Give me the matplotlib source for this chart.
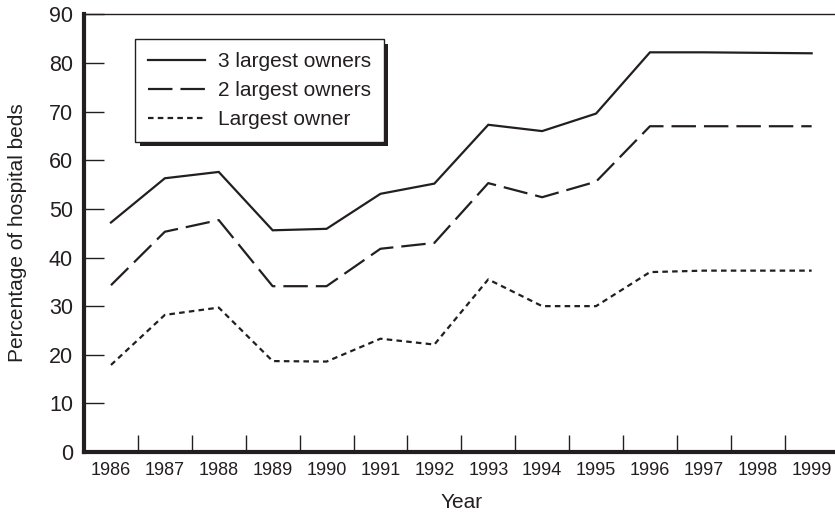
import matplotlib
matplotlib.use("Agg")
import matplotlib.pyplot as plt
from matplotlib.patches import Rectangle
from matplotlib.transforms import IdentityTransform
from matplotlib.ticker import FixedLocator

years = [1986, 1987, 1988, 1989, 1990, 1991, 1992, 1993, 1994, 1995, 1996, 1997, 1998, 1999]
three_largest = [47.2, 56.3, 57.6, 45.6, 45.9, 53.1, 55.2, 67.3, 66.0, 69.6, 82.2, 82.2, 82.1, 82.0]
two_largest = [34.3, 45.3, 47.7, 34.1, 34.1, 41.8, 43.0, 55.3, 52.4, 55.6, 67.0, 67.0, 67.0, 67.0]
largest = [17.9, 28.2, 29.7, 18.7, 18.6, 23.3, 22.1, 35.5, 30.0, 30.0, 37.0, 37.3, 37.3, 37.3]
series_labels = ["3 largest owners", "2 largest owners", "Largest owner"]
y_ticks = [0, 10, 20, 30, 40, 50, 60, 70, 80, 90]

C = "#231f20"
plt.rcParams['font.family'] = ['Liberation Sans', 'DejaVu Sans']
FS_X = 13.0
FS_Y = 15.5
FS_L = 15.0

W, H = 835, 516
fig = plt.figure(figsize=(W / 100, H / 100), dpi=100)
ax = fig.add_axes([84 / W, 64 / H, 754.6 / W, 437.6 / H])

lw = 1.6
ax.plot(years, three_largest, color=C, lw=lw, solid_joinstyle='miter', label=series_labels[0])
ax.plot(years, two_largest, color=C, lw=lw, dashes=(11, 3.6), label=series_labels[1])
ax.plot(years, largest, color=C, lw=lw, dashes=(2.5, 1.9), label=series_labels[2])

ax.set_xlim(1985.5, 1999.5)
ax.set_ylim(0, 90)

ax.set_yticks(y_ticks)
ax.set_yticklabels([str(v) for v in y_ticks])
ax.tick_params(axis='y', direction='in', length=14.5, width=1.0, color=C, pad=8,
               labelsize=FS_Y, labelcolor=C)

ax.set_xticks(years)
ax.set_xticklabels([str(y) for y in years])
ax.xaxis.set_minor_locator(FixedLocator([y + 0.5 for y in years[:-1]]))
ax.tick_params(axis='x', which='major', length=0, pad=7.5, labelsize=FS_X, labelcolor=C)
ax.tick_params(axis='x', which='minor', direction='in', length=12.5, width=1.0, color=C)

for s in ['left', 'bottom']:
    ax.spines[s].set_linewidth(3.0)
    ax.spines[s].set_color(C)
ax.spines['top'].set_linewidth(1.0)
ax.spines['top'].set_color(C)
ax.spines['right'].set_visible(False)

fig.text(462 / W, 1 - 503 / H, "Year", ha='center', va='center', fontsize=FS_L, color=C)
fig.text(18 / W, 1 - 233 / H, "Percentage of hospital beds", ha='center', va='center',
         rotation=90, fontsize=FS_L, color=C)

leg = ax.legend(loc='upper left', bbox_to_anchor=(135 / W, 1 - 39 / H),
                bbox_transform=fig.transFigure, borderaxespad=0, fancybox=False,
                frameon=True, edgecolor=C, framealpha=1, fontsize=FS_L,
                handlelength=2.75, handletextpad=0.6, labelspacing=0.48,
                borderpad=0.62)
leg.get_frame().set_linewidth(1.0)
for t in leg.get_texts():
    t.set_color(C)

fig.canvas.draw()
bb = leg.get_frame().get_window_extent()
shadow = Rectangle((bb.x0 + 4.5, bb.y0 - 4.5), bb.width, bb.height,
                   transform=IdentityTransform(), facecolor=C, edgecolor='none',
                   zorder=leg.get_zorder() - 0.1)
ax.add_artist(shadow)

fig.savefig("out.png", dpi=100)
